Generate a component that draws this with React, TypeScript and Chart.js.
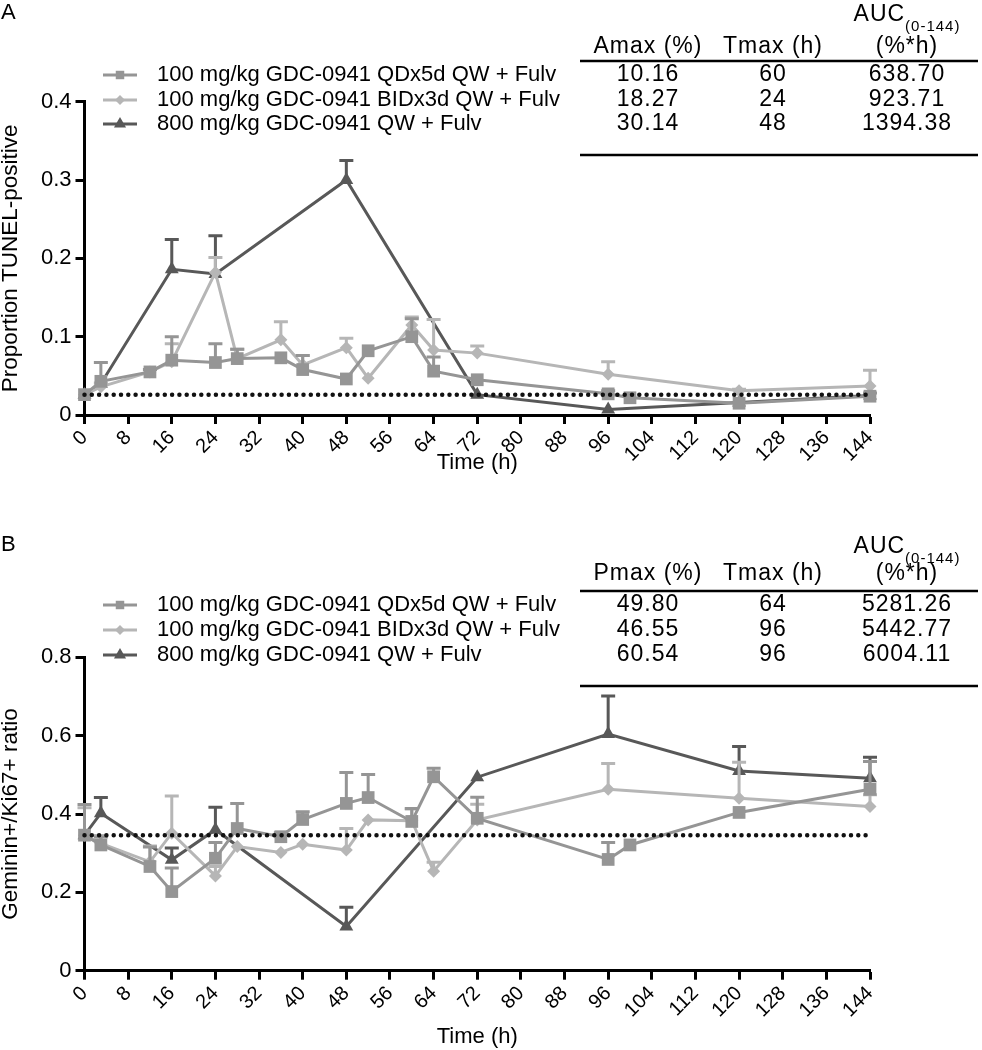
import React, { useEffect, useRef } from 'react';
import { Chart, registerables } from 'chart.js';

Chart.register(...registerables);

const FONT = "'Liberation Sans', Arial, Helvetica, sans-serif";

// x-axis tick labels (hours)
const timeTicks = [0, 8, 16, 24, 32, 40, 48, 56, 64, 72, 80, 88, 96, 104, 112, 120, 128, 136, 144];

const seriesNames = [
  '100 mg/kg GDC-0941 QDx5d QW + Fulv',
  '100 mg/kg GDC-0941 BIDx3d QW + Fulv',
  '800 mg/kg GDC-0941 QW + Fulv',
];
const seriesColors = ['#959595', '#b6b6b6', '#585858'];
const seriesMarkers = ['rect', 'rectRot', 'triangle'];
const markerRadius = [9, 6.5, 8];
const legendRadius = [6, 5, 7];

// ---------- Panel A : Proportion TUNEL-positive ----------
const timeSqA = [0, 3, 12, 16, 24, 28, 36, 40, 48, 52, 60, 64, 72, 96, 100, 120, 144];
const sqA = [0.026, 0.043, 0.055, 0.070, 0.067, 0.072, 0.073, 0.058, 0.046, 0.082, 0.100, 0.056, 0.045, 0.027, 0.022, 0.015, 0.024];
const sqErrA = [0, 0.024, 0.003, 0.030, 0.024, 0.012, 0, 0.018, 0, 0, 0.023, 0.018, 0, 0.004, 0, 0, 0.004];

const timeDiA = [0, 3, 12, 16, 24, 28, 36, 40, 48, 52, 60, 64, 72, 96, 120, 144];
const diA = [0.026, 0.036, 0.055, 0.068, 0.182, 0.072, 0.096, 0.064, 0.086, 0.047, 0.115, 0.083, 0.079, 0.052, 0.031, 0.037];
const diErrA = [0, 0.005, 0.003, 0.023, 0.019, 0.012, 0.023, 0.012, 0.012, 0, 0.010, 0.039, 0.009, 0.016, 0.002, 0.020];

const timeTrA = [0, 3, 16, 24, 48, 72, 96, 120, 144];
const trA = [0.026, 0.040, 0.186, 0.180, 0.300, 0.026, 0.007, 0.016, 0.025];
const trErrA = [0, 0, 0.038, 0.049, 0.025, 0, 0, 0, 0];

const baselineA = 0.026;
const amaxA = ['10.16', '18.27', '30.14'];
const tmaxA = ['60', '24', '48'];
const aucA = ['638.70', '923.71', '1394.38'];

// ---------- Panel B : Geminin+/Ki67+ ratio ----------
const timeSqB = [0, 3, 12, 16, 24, 28, 36, 40, 48, 52, 60, 64, 72, 96, 100, 120, 144];
const sqB = [0.346, 0.321, 0.266, 0.202, 0.287, 0.363, 0.342, 0.386, 0.427, 0.442, 0.381, 0.495, 0.389, 0.284, 0.321, 0.404, 0.463];
const sqErrB = [0.078, 0.020, 0.050, 0.060, 0.040, 0.064, 0.010, 0.020, 0.079, 0.059, 0.033, 0.022, 0.054, 0.043, 0, 0, 0.071];

const timeDiB = [0, 3, 12, 16, 24, 28, 36, 40, 48, 52, 60, 64, 72, 96, 120, 144];
const diB = [0.346, 0.325, 0.278, 0.351, 0.242, 0.317, 0.302, 0.323, 0.308, 0.385, 0.383, 0.254, 0.385, 0.463, 0.440, 0.419];
const diErrB = [0.070, 0.020, 0.040, 0.095, 0.024, 0, 0, 0, 0.055, 0, 0.030, 0.023, 0.040, 0.066, 0.092, 0.030];

const timeTrB = [0, 3, 16, 24, 48, 72, 96, 120, 144];
const trB = [0.346, 0.402, 0.283, 0.360, 0.113, 0.494, 0.604, 0.510, 0.491];
const trErrB = [0, 0.040, 0.030, 0.057, 0.049, 0, 0.097, 0.062, 0.054];

const baselineB = 0.346;
const pmaxB = ['49.80', '46.55', '60.54'];
const tmaxB = ['64', '96', '96'];
const aucB = ['5281.26', '5442.77', '6004.11'];

function drawMarker(ctx: CanvasRenderingContext2D, style: string, x: number, y: number, r: number, color: string) {
  ctx.fillStyle = color;
  ctx.beginPath();
  if (style === 'rect') {
    const s = r * Math.SQRT1_2;
    ctx.rect(x - s, y - s, 2 * s, 2 * s);
  } else if (style === 'rectRot') {
    ctx.moveTo(x, y - r);
    ctx.lineTo(x + r, y);
    ctx.lineTo(x, y + r);
    ctx.lineTo(x - r, y);
    ctx.closePath();
  } else {
    ctx.moveTo(x, y - r);
    ctx.lineTo(x + r * 0.866, y + r * 0.5);
    ctx.lineTo(x - r * 0.866, y + r * 0.5);
    ctx.closePath();
  }
  ctx.fill();
}

const errorBarPlugin = {
  id: 'errorBars',
  beforeDatasetDraw(chart: any, args: any) {
    const ds = chart.data.datasets[args.index];
    const errs = ds.errors;
    if (!errs) return;
    const yScale = chart.scales.y;
    const ctx = chart.ctx;
    ctx.save();
    ctx.strokeStyle = ds.borderColor;
    ctx.lineWidth = 3;
    args.meta.data.forEach((pt: any, j: number) => {
      const e = errs[j];
      if (!e) return;
      const v = ds.data[j].y;
      const yTop = yScale.getPixelForValue(v + e);
      ctx.beginPath();
      ctx.moveTo(pt.x, pt.y);
      ctx.lineTo(pt.x, yTop);
      ctx.moveTo(pt.x - 7, yTop);
      ctx.lineTo(pt.x + 7, yTop);
      ctx.stroke();
    });
    ctx.restore();
  },
};

const extrasPlugin = {
  id: 'panelExtras',
  afterDraw(chart: any, _args: any, opts: any) {
    const p = opts.panel;
    if (!p) return;
    const ctx: CanvasRenderingContext2D = chart.ctx;
    ctx.save();
    ctx.textBaseline = 'middle';
    ctx.fillStyle = '#000';
    ctx.font = `22px ${FONT}`;
    ctx.textAlign = 'left';
    ctx.fillText(p.letter, 1, p.letterY);

    // legend
    seriesNames.forEach((name, i) => {
      const y = p.rowY[i];
      ctx.strokeStyle = seriesColors[i];
      ctx.lineWidth = 3;
      ctx.beginPath();
      ctx.moveTo(103, y);
      ctx.lineTo(137, y);
      ctx.stroke();
      drawMarker(ctx, seriesMarkers[i], 120, y, legendRadius[i], seriesColors[i]);
      ctx.fillStyle = '#000';
      ctx.font = `22px ${FONT}`;
      ctx.textAlign = 'left';
      ctx.fillText(name, 157, y);
    });

    // table
    const cols = [648, 773, 907];
    ctx.strokeStyle = '#000';
    ctx.lineWidth = 2.5;
    ctx.beginPath();
    ctx.moveTo(580, p.lineTop);
    ctx.lineTo(978, p.lineTop);
    ctx.moveTo(580, p.lineBottom);
    ctx.lineTo(978, p.lineBottom);
    ctx.stroke();

    (ctx as any).letterSpacing = '1px';
    ctx.fillStyle = '#000';
    ctx.textAlign = 'center';
    ctx.font = `23px ${FONT}`;
    ctx.fillText(p.head1, cols[0], p.headerY);
    ctx.fillText('Tmax (h)', cols[1], p.headerY);
    ctx.fillText('(%*h)', cols[2], p.headerY);
    // AUC with subscript
    ctx.textAlign = 'left';
    ctx.font = `23px ${FONT}`;
    const wA = ctx.measureText('AUC').width;
    ctx.font = `15px ${FONT}`;
    const wS = ctx.measureText('(0-144)').width;
    const x0 = cols[2] - (wA + wS) / 2;
    ctx.font = `23px ${FONT}`;
    ctx.fillText('AUC', x0, p.aucY);
    ctx.font = `15px ${FONT}`;
    ctx.fillText('(0-144)', x0 + wA, p.aucY + 12);

    ctx.textAlign = 'center';
    ctx.font = `23px ${FONT}`;
    for (let i = 0; i < 3; i++) {
      ctx.fillText(p.col1[i], cols[0], p.rowY[i]);
      ctx.fillText(p.col2[i], cols[1], p.rowY[i]);
      ctx.fillText(p.col3[i], cols[2], p.rowY[i]);
    }
    ctx.restore();
  },
};

function buildDatasets(times: number[][], values: number[][], errors: number[][], baseline: number) {
  const ds: any[] = seriesNames.map((name, i) => ({
    label: name,
    data: times[i].map((t, j) => ({ x: t, y: values[i][j] })),
    errors: errors[i],
    borderColor: seriesColors[i],
    backgroundColor: seriesColors[i],
    borderWidth: 3,
    pointStyle: seriesMarkers[i],
    pointRadius: markerRadius[i],
    pointBackgroundColor: seriesColors[i],
    pointBorderColor: seriesColors[i],
    pointBorderWidth: 0,
    tension: 0,
    clip: false,
    order: 1,
  }));
  ds.push({
    label: 'baseline',
    data: [{ x: 0, y: baseline }, { x: 144, y: baseline }],
    borderColor: '#111',
    borderWidth: 4.5,
    borderDash: [0, 7.3],
    borderCapStyle: 'round',
    pointRadius: 0,
    clip: false,
    order: 0,
  });
  return ds;
}

function makeConfig(p: any) {
  return {
    type: 'line',
    data: { datasets: buildDatasets(p.times, p.values, p.errors, p.baseline) },
    plugins: [errorBarPlugin, extrasPlugin],
    options: {
      animation: false,
      responsive: false,
      devicePixelRatio: 1,
      layout: { padding: { left: 0, right: 112, top: p.padTop, bottom: p.padBottom } },
      plugins: {
        legend: { display: false },
        tooltip: { enabled: false },
        panelExtras: { panel: p },
      },
      scales: {
        x: {
          type: 'linear',
          min: 0,
          max: 144,
          afterBuildTicks: (scale: any) => {
            scale.ticks = timeTicks.map((v) => ({ value: v }));
          },
          afterFit: (scale: any) => {
            scale.height = p.xAxisHeight;
          },
          ticks: {
            autoSkip: false,
            minRotation: 45,
            maxRotation: 45,
            color: '#000',
            padding: 2,
            font: { family: FONT, size: 20 },
          },
          grid: {
            drawOnChartArea: false,
            drawTicks: true,
            tickLength: 9,
            tickWidth: 3,
            tickColor: '#000',
            color: '#000',
          },
          border: { display: true, color: '#000', width: 3 },
          title: {
            display: true,
            text: 'Time (h)',
            color: '#000',
            padding: 0,
            font: { family: FONT, size: 22, lineHeight: 1 },
          },
        },
        y: {
          min: 0,
          max: p.yMax,
          afterFit: (scale: any) => {
            scale.width = 84.5;
          },
          ticks: {
            stepSize: p.yStep,
            color: '#000',
            padding: 4,
            font: { family: FONT, size: 22 },
          },
          grid: {
            drawOnChartArea: false,
            drawTicks: true,
            tickLength: 9,
            tickWidth: 3,
            tickColor: '#000',
            color: '#000',
          },
          border: { display: true, color: '#000', width: 3 },
          title: {
            display: true,
            text: p.yTitle,
            color: '#000',
            padding: 0,
            font: { family: FONT, size: 22.5, lineHeight: 1 },
          },
        },
      },
    },
  } as any;
}

const panelA = {
  letter: 'A',
  letterY: 13,
  rowY: [75, 100, 124],
  headerY: 47,
  aucY: 15,
  lineTop: 61,
  lineBottom: 155,
  head1: 'Amax (%)',
  col1: amaxA,
  col2: tmaxA,
  col3: aucA,
  yTitle: 'Proportion TUNEL-positive',
  yMax: 0.4,
  yStep: 0.1,
  padTop: 101.7,
  padBottom: 51,
  xAxisHeight: 59,
  times: [timeSqA, timeDiA, timeTrA],
  values: [sqA, diA, trA],
  errors: [sqErrA, diErrA, trErrA],
  baseline: baselineA,
};

const panelB = {
  letter: 'B',
  letterY: 20,
  rowY: [80, 105, 130],
  headerY: 49,
  aucY: 22,
  lineTop: 66,
  lineBottom: 161,
  head1: 'Pmax (%)',
  col1: pmaxB,
  col2: tmaxB,
  col3: aucB,
  yTitle: 'Geminin+/Ki67+ ratio',
  yMax: 0.8,
  yStep: 0.2,
  padTop: 132.3,
  padBottom: 2,
  xAxisHeight: 77.3,
  times: [timeSqB, timeDiB, timeTrB],
  values: [sqB, diB, trB],
  errors: [sqErrB, diErrB, trErrB],
  baseline: baselineB,
};

function Panel({ cfg }: { cfg: any }) {
  const ref = useRef<HTMLCanvasElement | null>(null);
  useEffect(() => {
    if (!ref.current) return;
    const chart = new Chart(ref.current, makeConfig(cfg));
    return () => chart.destroy();
  }, [cfg]);
  return <canvas ref={ref} width={982} height={525} style={{ display: 'block', width: 982, height: 525 }} />;
}

export default function App() {
  useEffect(() => {
    document.body.style.margin = '0';
    document.body.style.background = '#fff';
  }, []);
  return (
    <div style={{ width: 982, height: 1050, background: '#fff' }}>
      <Panel cfg={panelA} />
      <Panel cfg={panelB} />
    </div>
  );
}
